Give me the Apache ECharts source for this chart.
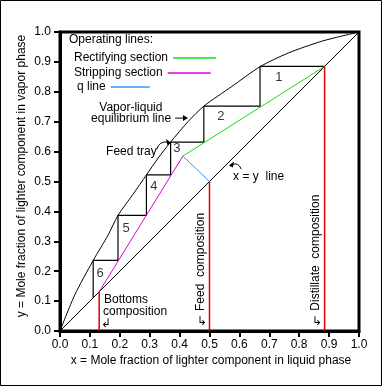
<!DOCTYPE html>
<html><head><meta charset="utf-8">
<script src="https://cdn.jsdelivr.net/npm/echarts@6/dist/echarts.min.js"></script>
<style>html,body{margin:0;padding:0;background:#fff}#c{width:383px;height:387px}</style>
</head><body><div id="c"></div>
<script>
// Equilibrium curve
const eqX = [0, 0.049, 0.111, 0.161, 0.194, 0.244, 0.289, 0.328, 0.37, 0.428, 0.481, 0.575, 0.669, 0.764, 0.875, 0.953, 1];
const eqY = [0, 0.120, 0.236, 0.321, 0.387, 0.457, 0.522, 0.578, 0.632, 0.700, 0.752, 0.818, 0.884, 0.930, 0.969, 0.989, 1];
// x = y line
const diagX = [0, 1];
const diagY = [0, 1];
// Operating lines
const rectX = [0.411, 0.885];
const rectY = [0.585, 0.885];
const stripX = [0.131, 0.411];
const stripY = [0.131, 0.585];
const qX = [0.5, 0.411];
const qY = [0.5, 0.585];
// Stage stepping
const stepX = [0.885, 0.669, 0.669, 0.481, 0.481, 0.37, 0.37, 0.289, 0.289, 0.194, 0.194, 0.111, 0.111];
const stepY = [0.885, 0.885, 0.752, 0.752, 0.632, 0.632, 0.522, 0.522, 0.387, 0.387, 0.236, 0.236, 0.111];
const stageNames = ['1', '2', '3', '4', '5', '6'];
const stageLabelX = [0.732, 0.538, 0.391, 0.314, 0.221, 0.134];
const stageLabelY = [0.849, 0.716, 0.612, 0.485, 0.344, 0.194];
// Compositions
const xBottoms = 0.131;
const xFeed = 0.5;
const xDistillate = 0.885;
// Axis ticks
const tickLabels = ['0.0','0.1','0.2','0.3','0.4','0.5','0.6','0.7','0.8','0.9','1.0'];
const legendNames = ['Rectifying section', 'Stripping section', 'q line'];

const FAM = '"Liberation Sans", Arial, sans-serif';
const FONT = '12px ' + FAM;
const pair = (xs, ys) => xs.map((x, i) => [x, ys[i]]);

const chart = echarts.init(document.getElementById('c'), null, {renderer: 'canvas'});

const axisCommon = {
  type: 'value', min: 0, max: 1, interval: 0.1,
  axisLine: {show: true, onZero: false, lineStyle: {color: '#000', width: 3}},
  axisTick: {show: true, inside: false, length: 6, lineStyle: {color: '#000', width: 2}},
  splitLine: {show: false},
  axisLabel: {color: '#000', fontSize: 12, fontFamily: FAM,
    formatter: v => tickLabels[Math.round(v * 10)]}
};

const line = (name, xs, ys, color, w, smooth) => ({
  name, type: 'line', data: pair(xs, ys), symbol: 'none', silent: true, smooth: smooth || false,
  lineStyle: {color, width: w || 1}, itemStyle: {color}, animation: false, z: 3
});

const legendTops = [47, 62, 76];
chart.setOption({
  animation: false,
  grid: {left: 60, top: 32, width: 299, height: 299, show: true, borderColor: '#000', borderWidth: 3, backgroundColor: 'transparent'},
  xAxis: Object.assign({}, axisCommon, {axisLabel: Object.assign({}, axisCommon.axisLabel, {margin: 8})}),
  yAxis: Object.assign({}, axisCommon, {axisLabel: Object.assign({}, axisCommon.axisLabel, {margin: 9})}),
  legend: legendNames.map((n, i) => ({
    data: [n], orient: 'horizontal', left: i === 2 ? 72 : 69, top: legendTops[i], align: 'right',
    icon: 'rect', itemWidth: i === 2 ? 39 : 43, itemHeight: 1.5, selectedMode: false,
    textStyle: {color: '#000', fontSize: 12, fontFamily: FAM}
  })),
  series: [
    line('eq', eqX, eqY, '#000', 1, 0.25),
    line('diag', diagX, diagY, '#000', 1),
    line('steps', stepX, stepY, '#000', 1.2),
    line('Rectifying section', rectX, rectY, '#11dd11', 1),
    line('Stripping section', stripX, stripY, '#dd00dd', 1),
    line('q line', qX, qY, '#3399ff', 1),
    line('bottoms', [xBottoms, xBottoms], [0, xBottoms], '#dd0000', 1.5),
    line('feed', [xFeed, xFeed], [0, xFeed], '#dd0000', 1.5),
    line('distillate', [xDistillate, xDistillate], [0, xDistillate], '#dd0000', 1.5),
    {
      type: 'scatter', symbolSize: 0, silent: true,
      data: stageNames.map((n, i) => ({value: [stageLabelX[i], stageLabelY[i]], name: n})),
      label: {show: true, position: 'inside', formatter: p => p.name, color: '#000', fontSize: 13,
        textBorderWidth: 0, fontFamily: FAM}
    }
  ]
});

const P = (x, y) => chart.convertToPixel({gridIndex: 0}, [x, y]);
const txt = (text, xy, opts) => Object.assign({
  type: 'text', x: xy[0], y: xy[1], silent: true,
  style: Object.assign({text, font: FONT, fill: '#000', align: 'left', verticalAlign: 'middle'}, (opts && opts.style) || {})
}, opts && opts.rotation ? {rotation: opts.rotation} : {});

// Annotation anchors in data coordinates
const annVL = P(0.237, 0.747);
const annEq = P(0.104, 0.710);
const annFeedTray = P(0.154, 0.599);
const annXY = P(0.579, 0.515);
const annBot1 = P(0.147, 0.104);
const annBot2 = P(0.144, 0.064);
const annBot3 = P(0.155, 0.023);
const annFeedC = P(0.472, 0.231);
const annFeedA = P(0.475, 0.030);
const annDistC = P(0.856, 0.262);
const annDistA = P(0.859, 0.030);
const eqArrA = P(0.385, 0.712), eqArrB = P(0.428, 0.712);

const ftA = P(0.324, 0.608), ftC = P(0.331, 0.636), ftB = P(0.362, 0.632);
const xyA = P(0.606, 0.541), xyC = P(0.598, 0.565), xyB = P(0.575, 0.557);

chart.setOption({
  graphic: [
    {type: 'rect', shape: {x: 0.5, y: 0.5, width: 381, height: 385}, style: {fill: 'none', stroke: '#000', lineWidth: 1}, silent: true},
    txt('Operating lines:', [69, 40]),
    txt('x = Mole fraction of lighter component in liquid phase', [211, 361], {style: {align: 'center'}}),
    txt('y = Mole fraction of lighter component in vapor phase', [22, 176], {rotation: Math.PI / 2, style: {align: 'center'}}),
    txt('Vapor-liquid', annVL, {style: {align: 'center'}}),
    txt('equilibrium line', annEq),
    {type: 'line', silent: true, shape: {x1: eqArrA[0], y1: eqArrA[1], x2: eqArrB[0] - 3, y2: eqArrB[1]}, style: {stroke: '#000', lineWidth: 1}},
    {type: 'polygon', silent: true, shape: {points: [[eqArrB[0], eqArrB[1]], [eqArrB[0] - 5, eqArrB[1] - 3], [eqArrB[0] - 5, eqArrB[1] + 3]]}, style: {fill: '#000'}},
    txt('Feed tray', annFeedTray),
    txt('x = y  line', annXY),
    txt('Bottoms', annBot1),
    txt('composition', annBot2),
    txt('\u21b2', annBot3, {style: {align: 'center'}}),
    txt('Feed  composition', annFeedC, {rotation: Math.PI / 2, style: {align: 'center'}}),
    txt('\u21b3', annFeedA, {style: {align: 'center'}}),
    txt('Distillate  composition', annDistC, {rotation: Math.PI / 2, style: {align: 'center'}}),
    txt('\u21b3', annDistA, {style: {align: 'center'}}),
    {type: 'bezierCurve', silent: true, shape: {x1: ftA[0], y1: ftA[1], cpx1: ftC[0], cpy1: ftC[1], x2: ftB[0], y2: ftB[1]},
      style: {stroke: '#000', lineWidth: 1, fill: 'none'}},
    {type: 'polygon', silent: true, shape: {points: [[ftB[0] + 3, ftB[1] + 1], [ftB[0] - 2, ftB[1] - 3], [ftB[0] - 1, ftB[1] + 3]]}, style: {fill: '#000'}},
    {type: 'bezierCurve', silent: true, shape: {x1: xyA[0], y1: xyA[1], cpx1: xyC[0], cpy1: xyC[1], x2: xyB[0], y2: xyB[1]},
      style: {stroke: '#000', lineWidth: 1, fill: 'none'}},
    {type: 'polygon', silent: true, shape: {points: [[xyB[0] - 3, xyB[1] + 1], [xyB[0] + 2, xyB[1] - 3], [xyB[0] + 1, xyB[1] + 3]]}, style: {fill: '#000'}}
  ]
});
</script></body></html>
